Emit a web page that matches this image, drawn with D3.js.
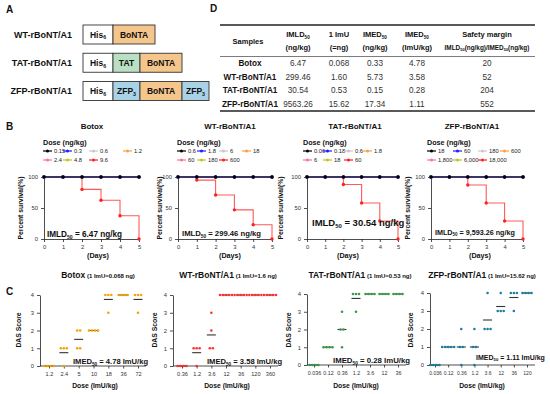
<!DOCTYPE html>
<html>
<head>
<meta charset="utf-8">
<script src="https://cdn.jsdelivr.net/npm/d3@7"></script>
<style>
  body { margin: 0; background: #fff; }
  svg { display: block; }
</style>
</head>
<body>
<svg id="fig" width="550" height="394"></svg>
<script>
// ---- data ----
// A: constructs
const constructNames = ['WT-rBoNT/A1', 'TAT-rBoNT/A1', 'ZFP-rBoNT/A1']
const constructDomains = [['His{6}', 'BoNTA'], ['His{6}', 'TAT', 'BoNTA'], ['His{6}', 'ZFP{3}', 'BoNTA', 'ZFP{3}']]

// D: table
const tableSamples = ['Botox', 'WT-rBoNT/A1', 'TAT-rBoNT/A1', 'ZFP-rBoNT/A1']
const imld50 = ['6.47', '299.46', '30.54', '9563.26']
const oneImU = ['0.068', '1.60', '0.53', '15.62']
const imed50Ng = ['0.33', '5.73', '0.15', '17.34']
const imed50ImU = ['4.78', '3.58', '0.28', '1.11']
const safetyMargin = ['20', '52', '204', '552']
const headerTop = ['Samples', 'IMLD{50}', '1 ImU', 'IMED{50}', 'IMED{50}', 'Safety margin']
const headerBottom = ['', '(ng/kg)', '(=ng)', '(ng/kg)', '(ImU/kg)', 'IMLD{50}(ng/kg)/IMED{50}(ng/kg)']

// B: survival
const survivalTitles = ['Botox', 'WT-rBoNT/A1', 'TAT-rBoNT/A1', 'ZFP-rBoNT/A1']
const survivalDays = [0, 1, 2, 3, 4, 5]
const doseLabels = [
  ['0.15', '0.3', '0.6', '1.2', '2.4', '4.8', '9.6'],
  ['0.6', '1.8', '6', '18', '60', '180', '600'],
  ['0.06', '0.18', '0.6', '1.8', '6', '18', '60'],
  ['18', '60', '180', '600', '1,800', '6,000', '18,000']
]
const lowDoseSurvival = [100, 100, 100, 100, 100, 100]
const topDoseSurvival = [
  [100, 100, 80, 62.5, 37.5, 0],
  [100, 95, 71, 47, 23, 0],
  [100, 100, 88, 58, 29, 0],
  [100, 100, 87, 58, 29, 0]
]
const imld50Labels = ['6.47', '299.46', '30.54', '9,593.26']

// C: DAS scores
const dasTitles = ['Botox', 'WT-rBoNT/A1', 'TAT-rBoNT/A1', 'ZFP-rBoNT/A1']
const imuLabels = ['0.068', '1.6', '0.53', '15.62']
const dasDoses = [
  ['1.2', '2.4', '5', '10', '18', '36', '72'],
  ['0.36', '1.2', '3.6', '12', '36', '120', '360'],
  ['0.036', '0.12', '0.36', '1.2', '3.6', '12', '36'],
  ['0.036', '0.12', '0.36', '1.2', '3.6', '12', '36', '120']
]
const dasScores = [
  [[0, 0, 0, 0], [1, 1, 1, 0], [1, 2, 2, 1], [2, 2, 2, 2], [4, 4, 4, 3], [4, 4, 4, 4], [4, 4, 4, 3]],
  [[0, 0, 0, 0], [1, 1, 1, 0], [1, 3, 2, 1], [4, 4, 4, 4, 4], [4, 4, 4, 4, 4], [4, 4, 4, 4, 4], [4, 4, 4, 4, 4]],
  [[0, 0, 0, 0], [1, 1, 1, 1], [2, 3, 2, 1], [4, 4, 4, 3], [4, 4, 4, 4], [4, 4, 4, 4], [4, 4, 4, 4]],
  [[0, 0, 0, 0], [1, 1, 1, 1, 1], [1, 2, 1, 0], [1, 2, 1, 0], [2, 2, 4, 2], [3, 4, 3, 3], [4, 4, 3, 4], [4, 4, 4, 4]]
]
const imed50Labels = ['4.78', '3.58', '0.28', '1.11']

// ---- styles ----
const domainFill = { His: '#ffffff', TAT: '#b9e0c3', ZFP: '#a9d2e6', BoNTA: '#f4c68c' }
const domainWidth = { His: 30, TAT: 27, ZFP: 27, BoNTA: 42 }
const doseColors = ['#000000', '#1f1fff', '#c8c8c8', '#ffa040', '#ff6f9f', '#c4c41c', '#ff2020']
const dasColors = ['#f0a500', '#ff3030', '#3a9a4a', '#1a7f9c']

const svg = d3.select('#fig').attr('font-family', 'Arial, "Liberation Sans", Helvetica, sans-serif')

// text with {subscript} parts
function richText(parent, str, x, y, size, anchor = 'start', weight = 'bold', fill = '#111') {
  const t = parent.append('text').attr('x', x).attr('y', y)
    .attr('font-size', size).attr('font-weight', weight)
    .attr('text-anchor', anchor).attr('fill', fill)
  let shifted = false
  str.split(/(\{[^}]*\})/).filter(s => s.length).forEach(s => {
    const sub = s[0] === '{'
    const ts = t.append('tspan').text(sub ? s.slice(1, -1) : s)
    if (sub) { ts.attr('font-size', size * 0.62).attr('dy', size * 0.2); shifted = true }
    else if (shifted) { ts.attr('dy', -size * 0.2); shifted = false }
  })
  return t
}

function styleAxis(g, fs) {
  g.selectAll('path, line').attr('stroke', '#222').attr('stroke-width', 0.8)
  g.selectAll('text').attr('font-size', fs).attr('fill', '#333').attr('font-family', null)
}

// panel letters
richText(svg, 'A', 6, 13, 10)
richText(svg, 'D', 210, 12, 10)
richText(svg, 'B', 6, 130, 10)
richText(svg, 'C', 6, 295, 10)

//======== A: construct diagrams ========//
{
  const rowY = d3.scalePoint().domain(constructNames).range([34.5, 91])
  const g = svg.append('g')
  constructNames.forEach((name, i) => {
    const cy = rowY(name)
    richText(g, name, 72, cy + 3, 9, 'end')
    let x = 83
    constructDomains[i].forEach(dom => {
      const key = dom.replace(/\{.*\}/, '')
      const w = domainWidth[key]
      g.append('rect').attr('x', x).attr('y', cy - 9.5)
        .attr('width', w).attr('height', 19)
        .attr('fill', domainFill[key]).attr('stroke', '#333').attr('stroke-width', 0.9)
      richText(g, dom, x + w / 2, cy + 3.2, 8.5, 'middle')
      x += w
    })
  })
}

//======== D: table ========//
{
  const g = svg.append('g')
  const colX = [248, 298, 339, 375, 417, 487]
  const rowY = d3.scalePoint().domain(tableSamples).range([66, 107])
  g.append('line').attr('x1', 220).attr('x2', 535).attr('y1', 25).attr('y2', 25).attr('stroke', '#222').attr('stroke-width', 1.4)
  g.append('line').attr('x1', 220).attr('x2', 535).attr('y1', 56.5).attr('y2', 56.5).attr('stroke', '#444').attr('stroke-width', 0.7)
  g.append('line').attr('x1', 220).attr('x2', 535).attr('y1', 111).attr('y2', 111).attr('stroke', '#222').attr('stroke-width', 1.4)

  headerTop.forEach((h, i) => {
    if (!headerBottom[i]) {
      richText(g, h, colX[i], 44, 7.5, 'middle')
    } else {
      richText(g, h, colX[i], 37, 7.5, 'middle')
      richText(g, headerBottom[i], colX[i], 50, i === 5 ? 6.4 : 7.5, 'middle')
    }
  })
  const cols = [imld50, oneImU, imed50Ng, imed50ImU, safetyMargin]
  tableSamples.forEach((s, r) => {
    richText(g, s, colX[0] + 2, rowY(s), 8.2, 'middle')
    cols.forEach((col, c) => {
      richText(g, col[r], colX[c + 1], rowY(s), 8.2, 'middle', 'normal', '#333')
    })
  })
}

//======== B: survival curves ========//
{
  const frameX = [[44, 139], [178, 272], [307, 398], [431, 523]]
  const titleX = [92, 230, 355, 472]
  const legendX = [43, 177, 303, 427]
  const legendCols = [[0, 20, 46, 80], [0, 20, 42, 65], [0, 20, 41, 60], [0, 26, 51, 73]]
  const noteX = [47, 182, 312, 435]
  const noteY = [237, 236, 226, 235]
  const noteSize = [8.2, 7.7, 9.5, 7.2]
  const yLabelX = [23, 162, 283, 410]
  const daysX = [98, 230, 348, 480]

  survivalTitles.forEach((title, p) => {
    const g = svg.append('g')
    const x = d3.scaleLinear().domain([0, 5]).range(frameX[p])
    const y = d3.scaleLinear().domain([0, 100]).range([239, 177])

    richText(g, title, titleX[p], 129, 8, 'middle')
    richText(g, 'Dose (ng/kg)', legendX[p], 145, 7.2)

    // legend
    doseLabels[p].forEach((lab, k) => {
      const lx = legendX[p] + legendCols[p][k % 4]
      const ly = k < 4 ? 153 : 162
      g.append('line').attr('x1', lx).attr('x2', lx + 9).attr('y1', ly - 2).attr('y2', ly - 2)
        .attr('stroke', doseColors[k]).attr('stroke-width', 1.2)
      g.append('circle').attr('cx', lx + 4.5).attr('cy', ly - 2).attr('r', 1.5).attr('fill', doseColors[k])
      richText(g, lab, lx + 11, ly, 5.8, 'start', 'normal', '#222')
    })

    // axes
    const xa = g.append('g').attr('transform', 'translate(0,239)')
      .call(d3.axisBottom(x).tickValues(survivalDays).tickSize(3).tickSizeOuter(0).tickFormat(d3.format('d')))
    styleAxis(xa, 5.8)
    const ya = g.append('g').attr('transform', `translate(${frameX[p][0]},0)`)
      .call(d3.axisLeft(y).tickValues([0, 50, 100]).tickSize(3).tickSizeOuter(0))
    styleAxis(ya, 5.8)

    const line = d3.line().x((d, i) => x(survivalDays[i])).y(d => y(d)).curve(d3.curveStepAfter)

    // top dose (red) first, then lower doses, black on top
    const series = doseLabels[p].map((lab, k) => ({ k, vals: k === 6 ? topDoseSurvival[p] : lowDoseSurvival }))
    ;[series[6], ...series.slice(0, 6).reverse()].forEach(s => {
      g.append('path').datum(s.vals).attr('d', line).attr('fill', 'none')
        .attr('stroke', s.k === 6 ? '#ff5a5a' : doseColors[s.k]).attr('stroke-width', 1.1)
      g.selectAll(null).data(s.vals).join('circle')
        .attr('cx', (d, i) => x(survivalDays[i])).attr('cy', d => y(d)).attr('r', 1.7)
        .attr('fill', doseColors[s.k])
    })

    richText(g, `IMLD{50} = ${imld50Labels[p]} ng/kg`, noteX[p], noteY[p], noteSize[p])

    richText(g, 'Percent survival(%)', 0, 0, 6.8, 'middle')
      .attr('transform', `translate(${yLabelX[p]},208) rotate(-90)`)
    richText(g, '(Days)', daysX[p], 258, 7.2, 'middle')
  })
}

//======== C: DAS scores ========//
{
  const frames = [
    { axis: 40, x: [49, 138], y: [366, 295] },
    { axis: 173, x: [182, 270], y: [366, 295] },
    { axis: 307, x: [314, 398], y: [365, 294] },
    { axis: 430, x: [435, 527], y: [365, 293] }
  ]
  const titleX = [98, 228, 360, 482]
  const labelX = [21, 157, 291, 413]
  const doseX = [95, 227, 356, 482]
  const noteX = [73, 207, 333, 476]
  const noteY = [364, 364, 363, 360]
  const noteSize = [7.6, 7.6, 7.8, 7]
  const tickSize = [5.6, 5.6, 5.4, 5]

  dasTitles.forEach((title, p) => {
    const f = frames[p]
    const g = svg.append('g')
    const x = d3.scalePoint().domain(dasDoses[p]).range(f.x)
    const y = d3.scaleLinear().domain([0, 4]).range(f.y)

    const t = richText(g, title, titleX[p], 278, 8.5, 'middle')
    t.append('tspan').attr('font-size', 6).text(` (1 ImU=${imuLabels[p]} ng)`)

    const xa = g.append('g').attr('transform', `translate(0,${f.y[0]})`)
      .call(d3.axisBottom(x).tickSize(2.5).tickSizeOuter(0).tickPadding(4))
    xa.select('.domain').remove()
    xa.append('line').attr('x1', f.axis).attr('x2', f.x[1] + 8).attr('y1', 0).attr('y2', 0)
    styleAxis(xa, tickSize[p])
    const ya = g.append('g').attr('transform', `translate(${f.axis},0)`)
      .call(d3.axisLeft(y).tickValues([0, 1, 2, 3, 4]).tickFormat(d3.format('d')).tickSize(3).tickSizeOuter(0))
    styleAxis(ya, 5.8)

    dasScores[p].forEach((scores, gi) => {
      const cx = x(dasDoses[p][gi])
      const mean = d3.mean(scores)
      g.append('line').attr('x1', cx - 4.5).attr('x2', cx + 4.5)
        .attr('y1', y(mean)).attr('y2', y(mean)).attr('stroke', '#333').attr('stroke-width', 1.1)
      const counts = d3.rollup(scores, v => v.length, d => d)
      const seen = new Map()
      scores.forEach(s => {
        const k = seen.get(s) || 0
        seen.set(s, k + 1)
        const n = counts.get(s)
        g.append('circle').attr('cx', cx + (k - (n - 1) / 2) * 3).attr('cy', y(s))
          .attr('r', 1.3).attr('fill', dasColors[p])
      })
    })

    richText(g, `IMED{50} = ${imed50Labels[p]} ImU/kg`, noteX[p], noteY[p], noteSize[p])
    richText(g, 'DAS Score', 0, 0, 6.8, 'middle')
      .attr('transform', `translate(${labelX[p]},330) rotate(-90)`)
    richText(g, 'Dose (ImU/kg)', doseX[p], 388, 6.8, 'middle')
  })
}
</script>
</body>
</html>
